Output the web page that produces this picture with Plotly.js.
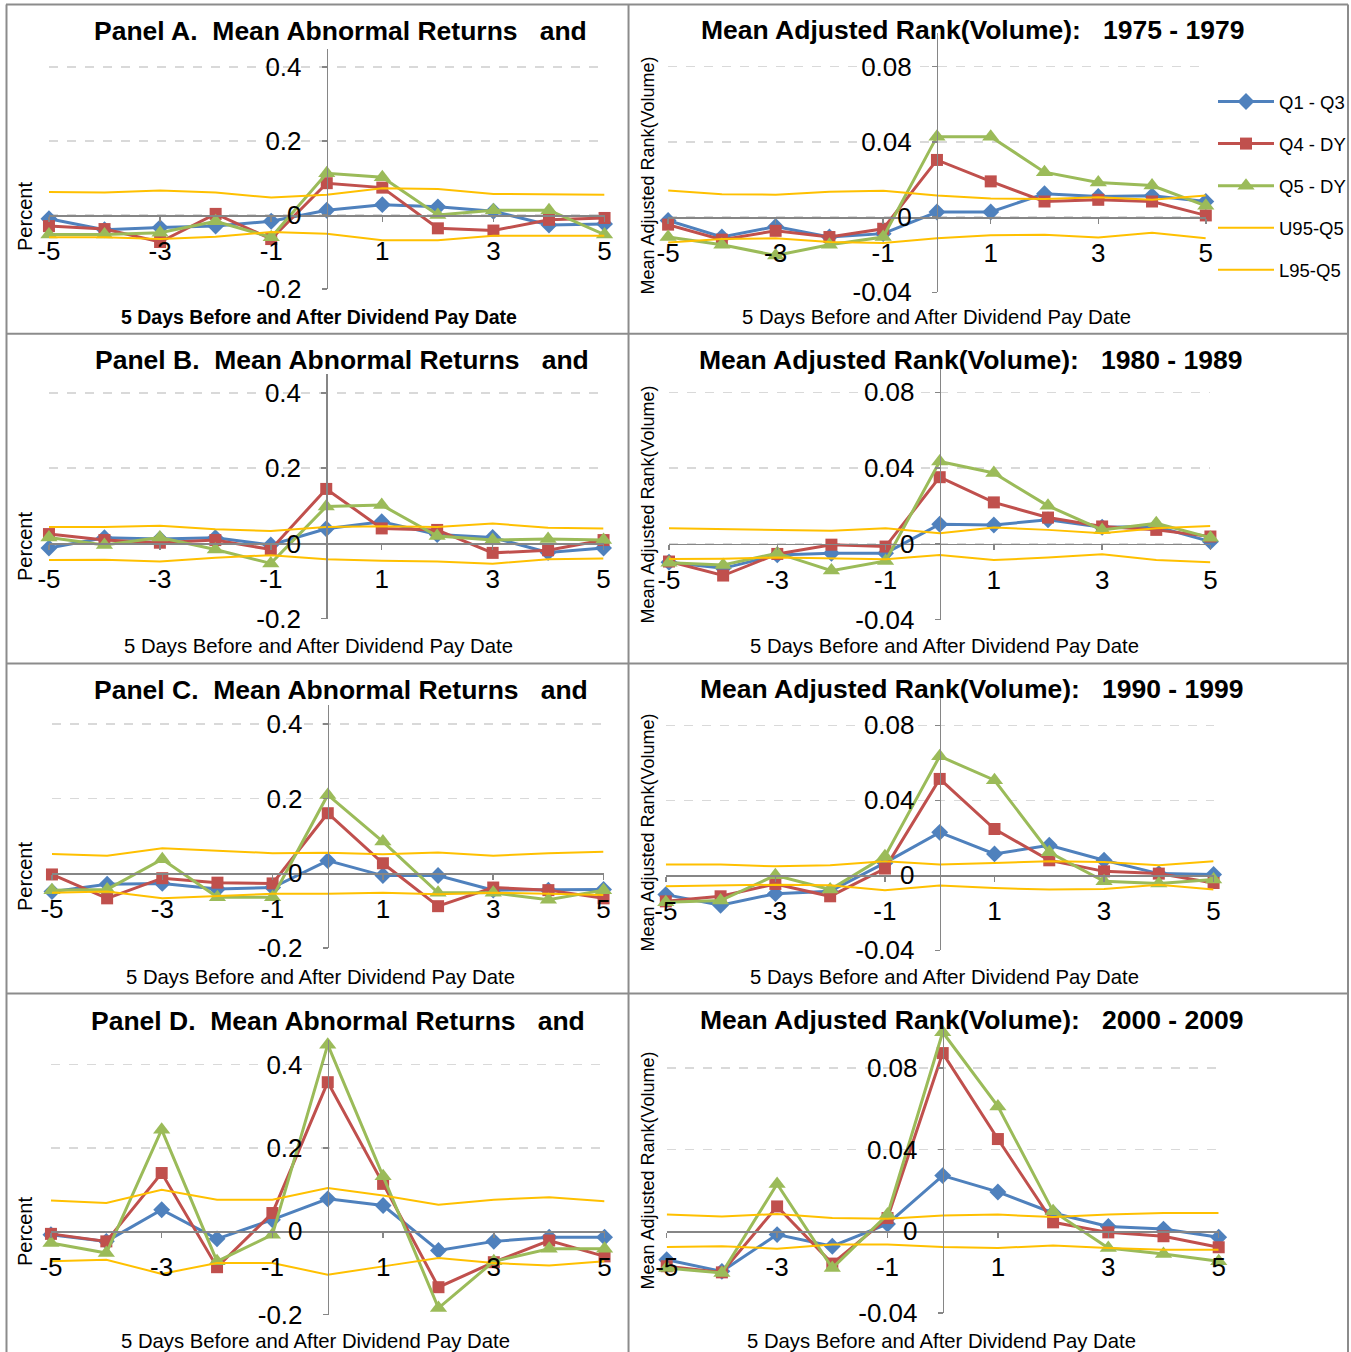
<!DOCTYPE html>
<html><head><meta charset="utf-8">
<script src="https://cdn.plot.ly/plotly-3.0.1.min.js"></script>
<style>html,body{margin:0;padding:0;background:#fff;overflow:hidden;width:1351px;height:1352px}
#chart{width:1351px;height:1352px;overflow:hidden}</style>
</head><body><div id="chart"></div>
<script>
// ---------------- DATA ----------------
const days = [-5,-4,-3,-2,-1,0,1,2,3,4,5];
const xTickVals = [-5,-3,-1,1,3,5];
const xTickText = ['-5','-3','-1','1','3','5'];
const seriesNames = ['Q1 - Q3','Q4 - DY','Q5 - DY','U95-Q5','L95-Q5'];
const retTickVals = [-0.2,0,0.2,0.4];
const retTickText = ['-0.2','0','0.2','0.4'];
const volTickVals = [-0.04,0,0.04,0.08];
const volTickText = ['-0.04','0','0.04','0.08'];
const leftTitles = ['Panel A.  Mean Abnormal Returns   and','Panel B.  Mean Abnormal Returns   and','Panel C.  Mean Abnormal Returns   and','Panel D.  Mean Abnormal Returns   and'];
const rightTitles = ['Mean Adjusted Rank(Volume):   1975 - 1979','Mean Adjusted Rank(Volume):   1980 - 1989','Mean Adjusted Rank(Volume):   1990 - 1999','Mean Adjusted Rank(Volume):   2000 - 2009'];
const xTitle = '5 Days Before and After Dividend Pay Date';
const retYTitle = 'Percent';
const volYTitle = 'Mean Adjusted Rank(Volume)';

// Panel A – abnormal returns
const retA_Q1Q3 = [-0.010,-0.040,-0.034,-0.030,-0.017,0.013,0.028,0.022,0.010,-0.027,-0.024];
const retA_Q4DY = [-0.030,-0.038,-0.073,0.003,-0.065,0.086,0.074,-0.036,-0.042,-0.013,-0.008];
const retA_Q5DY = [-0.053,-0.053,-0.048,-0.017,-0.060,0.113,0.102,0.000,0.013,0.013,-0.053];
const retA_U95  = [0.062,0.061,0.066,0.061,0.047,0.055,0.072,0.070,0.057,0.057,0.055];
const retA_L95  = [-0.060,-0.060,-0.065,-0.059,-0.046,-0.051,-0.068,-0.068,-0.056,-0.056,-0.056];
// Panel B
const retB_Q1Q3 = [-0.012,0.015,0.012,0.015,-0.004,0.039,0.058,0.024,0.016,-0.024,-0.012];
const retB_Q4DY = [0.025,0.009,0.002,0.009,-0.016,0.145,0.040,0.036,-0.025,-0.018,0.009];
const retB_Q5DY = [0.016,-0.004,0.016,-0.016,-0.053,0.098,0.102,0.020,0.009,0.012,0.009];
const retB_U95  = [0.044,0.044,0.047,0.038,0.033,0.044,0.046,0.044,0.053,0.042,0.040];
const retB_L95  = [-0.044,-0.043,-0.048,-0.038,-0.031,-0.042,-0.046,-0.048,-0.054,-0.042,-0.040];
// Panel C
const retC_Q1Q3 = [-0.049,-0.029,-0.027,-0.042,-0.038,0.034,-0.006,-0.006,-0.045,-0.045,-0.043];
const retC_Q4DY = [-0.003,-0.067,-0.013,-0.025,-0.027,0.161,0.027,-0.088,-0.038,-0.045,-0.067];
const retC_Q5DY = [-0.045,-0.043,0.038,-0.064,-0.064,0.210,0.085,-0.052,-0.052,-0.071,-0.045];
const retC_U95  = [0.052,0.047,0.067,0.060,0.054,0.055,0.051,0.056,0.047,0.054,0.058];
const retC_L95  = [-0.052,-0.049,-0.067,-0.060,-0.055,-0.055,-0.052,-0.056,-0.052,-0.055,-0.058];
// Panel D
const retD_Q1Q3 = [-0.008,-0.024,0.052,-0.018,0.028,0.078,0.062,-0.046,-0.024,-0.014,-0.014];
const retD_Q4DY = [-0.006,-0.024,0.140,-0.086,0.044,0.358,0.114,-0.134,-0.074,-0.022,-0.060];
const retD_Q5DY = [-0.028,-0.052,0.244,-0.072,-0.008,0.448,0.132,-0.184,-0.072,-0.042,-0.042];
const retD_U95  = [0.074,0.068,0.100,0.076,0.076,0.104,0.086,0.064,0.076,0.082,0.072];
const retD_L95  = [-0.072,-0.068,-0.102,-0.076,-0.076,-0.104,-0.084,-0.064,-0.076,-0.082,-0.072];

// Volume 1975-1979
const vol75_Q1Q3 = [-0.0018,-0.0106,-0.0050,-0.0106,-0.0088,0.0027,0.0027,0.0124,0.0110,0.0113,0.0083];
const vol75_Q4DY = [-0.0040,-0.0120,-0.0073,-0.0106,-0.0062,0.0304,0.0190,0.0083,0.0092,0.0083,0.0009];
const vol75_Q5DY = [-0.0106,-0.0147,-0.0204,-0.0147,-0.0106,0.0428,0.0428,0.0239,0.0184,0.0168,0.0060];
const vol75_U95  = [0.0142,0.0122,0.0119,0.0135,0.0140,0.0115,0.0099,0.0096,0.0106,0.0092,0.0115];
const vol75_L95  = [-0.0135,-0.0117,-0.0113,-0.0133,-0.0138,-0.0112,-0.0097,-0.0094,-0.0108,-0.0083,-0.0113];
// Volume 1980-1989
const vol80_Q1Q3 = [-0.0097,-0.0129,-0.0058,-0.0049,-0.0049,0.0104,0.0100,0.0127,0.0088,0.0092,0.0012];
const vol80_Q4DY = [-0.0093,-0.0167,-0.0053,-0.0004,-0.0014,0.0352,0.0219,0.0139,0.0092,0.0074,0.0039];
const vol80_Q5DY = [-0.0099,-0.0111,-0.0049,-0.0141,-0.0090,0.0435,0.0374,0.0201,0.0074,0.0109,0.0033];
const vol80_U95  = [0.0083,0.0078,0.0070,0.0069,0.0083,0.0056,0.0086,0.0074,0.0056,0.0083,0.0095];
const vol80_L95  = [-0.0079,-0.0078,-0.0072,-0.0076,-0.0081,-0.0058,-0.0085,-0.0072,-0.0055,-0.0085,-0.0097];
// Volume 1990-1999
const vol90_Q1Q3 = [-0.0103,-0.0160,-0.0098,-0.0085,0.0066,0.0229,0.0114,0.0160,0.0080,0.0009,0.0004];
const vol90_Q4DY = [-0.0139,-0.0112,-0.0046,-0.0112,0.0036,0.0514,0.0247,0.0080,0.0021,0.0009,-0.0041];
const vol90_Q5DY = [-0.0144,-0.0135,0.0000,-0.0076,0.0101,0.0635,0.0507,0.0123,-0.0032,-0.0044,-0.0023];
const vol90_U95  = [0.0057,0.0057,0.0048,0.0053,0.0075,0.0057,0.0066,0.0075,0.0071,0.0053,0.0075];
const vol90_L95  = [-0.0059,-0.0055,-0.0050,-0.0053,-0.0080,-0.0055,-0.0068,-0.0076,-0.0073,-0.0050,-0.0076];
// Volume 2000-2009
const vol00_Q1Q3 = [-0.0139,-0.0196,-0.0016,-0.0073,0.0036,0.0273,0.0193,0.0090,0.0024,0.0011,-0.0029];
const vol00_Q4DY = [-0.0171,-0.0201,0.0122,-0.0158,0.0065,0.0873,0.0452,0.0044,-0.0005,-0.0024,-0.0078];
const vol00_Q5DY = [-0.0180,-0.0204,0.0232,-0.0180,0.0082,0.0975,0.0612,0.0098,-0.0082,-0.0111,-0.0147];
const vol00_U95  = [0.0082,0.0073,0.0085,0.0065,0.0062,0.0077,0.0082,0.0070,0.0082,0.0090,0.0090];
const vol00_L95  = [-0.0077,-0.0073,-0.0085,-0.0065,-0.0065,-0.0077,-0.0082,-0.0069,-0.0082,-0.0090,-0.0090];

// ---------------- LAYOUT / STYLE ----------------
const W = 1351, H = 1352;
const FONT = '"Liberation Sans", Arial, sans-serif';
const colors = ['#4F81BD','#C0504D','#9BBB59','#FFC000','#FFC000'];
const symbols = ['diamond','square','triangle-up',null,null];
const msizes = [13,12,15,0,0];
const lwidths = [3,3,3,2,2];

const panelSeries = [
  [retA_Q1Q3,retA_Q4DY,retA_Q5DY,retA_U95,retA_L95],
  [retB_Q1Q3,retB_Q4DY,retB_Q5DY,retB_U95,retB_L95],
  [retC_Q1Q3,retC_Q4DY,retC_Q5DY,retC_U95,retC_L95],
  [retD_Q1Q3,retD_Q4DY,retD_Q5DY,retD_U95,retD_L95],
  [vol75_Q1Q3,vol75_Q4DY,vol75_Q5DY,vol75_U95,vol75_L95],
  [vol80_Q1Q3,vol80_Q4DY,vol80_Q5DY,vol80_U95,vol80_L95],
  [vol90_Q1Q3,vol90_Q4DY,vol90_Q5DY,vol90_U95,vol90_L95],
  [vol00_Q1Q3,vol00_Q4DY,vol00_Q5DY,vol00_U95,vol00_L95]
];

// pixel geometry of each panel
const geom = [
  {xl:49,  xr:605,  vTop:0.4,  pTop:67,    vBot:-0.2,  pBot:289,   ymin:-0.2,  ymax:0.45},
  {xl:49,  xr:604,  vTop:0.4,  pTop:393,   vBot:-0.2,  pBot:618.7, ymin:-0.2,  ymax:0.45},
  {xl:52,  xr:604,  vTop:0.4,  pTop:724,   vBot:-0.2,  pBot:948,   ymin:-0.2,  ymax:0.45},
  {xl:51,  xr:605,  vTop:0.4,  pTop:1064.7,vBot:-0.2,  pBot:1314.7,ymin:-0.2,  ymax:0.46},
  {xl:668.6,xr:1206.7,vTop:0.08,pTop:66.7, vBot:-0.04, pBot:292.3, ymin:-0.04, ymax:0.098},
  {xl:669.5,xr:1211.3,vTop:0.08,pTop:392.3,vBot:-0.04, pBot:619.7, ymin:-0.04, ymax:0.095},
  {xl:666.3,xr:1214.5,vTop:0.08,pTop:725.3,vBot:-0.04, pBot:950.3, ymin:-0.04, ymax:0.095},
  {xl:667.2,xr:1219.6,vTop:0.08,pTop:1068, vBot:-0.04, pBot:1313,  ymin:-0.04, ymax:0.1}
];

const data = [];
const layout = {
  width: W, height: H, autosize: false,
  margin: {l:0, r:0, t:0, b:0, pad:0},
  paper_bgcolor: '#ffffff', plot_bgcolor: 'rgba(0,0,0,0)',
  showlegend: true,
  legend: {x: 1214/W, y: 1 - 83/H, xanchor:'left', yanchor:'top',
           font:{family: FONT, size: 18.5, color:'#000'}, tracegroupgap: 15,
           itemwidth: 56, bgcolor:'rgba(0,0,0,0)', traceorder:'grouped'},
  annotations: [], shapes: []
};

geom.forEach((g, i) => {
  const n = i + 1;
  const xa = 'xaxis' + (n === 1 ? '' : n), ya = 'yaxis' + (n === 1 ? '' : n);
  const xr = 'x' + (n === 1 ? '' : n), yr = 'y' + (n === 1 ? '' : n);
  const ppu = (g.pBot - g.pTop) / (g.vTop - g.vBot);
  const pix = v => g.pBot - (v - g.vBot) * ppu;
  const isVol = i >= 4;
  layout[xa] = {
    domain: [g.xl / W, g.xr / W], range: [-5, 5], anchor: 'free', position: 1 - pix(0) / H,
    showline: true, linecolor: '#868686', linewidth: 1.5,
    tickmode: 'array', tickvals: xTickVals, ticktext: xTickText,
    ticks: 'outside', ticklen: 5, tickcolor: '#868686', tickwidth: 1.5,
    showgrid: false, zeroline: false, fixedrange: true,
    tickfont: {family: FONT, size: 26, color: '#000'}, ticklabelstandoff: 7
  };
  layout[ya] = {
    domain: [1 - pix(g.ymin) / H, 1 - pix(g.ymax) / H], range: [g.ymin, g.ymax],
    anchor: 'free', position: ((g.xl + g.xr) / 2) / W,
    showline: true, linecolor: '#868686', linewidth: 1.5,
    tickmode: 'array', tickvals: isVol ? volTickVals : retTickVals, ticktext: isVol ? volTickText : retTickText,
    ticks: 'outside', ticklen: 5, tickcolor: '#868686', tickwidth: 1.5,
    showgrid: true, gridcolor: '#d9d9d9', gridwidth: 1.5, griddash: 'dash',
    zeroline: false, fixedrange: true,
    tickfont: {family: FONT, size: 26, color: '#000'}, ticklabelstandoff: 15
  };
  panelSeries[i].forEach((ys, k) => {
    const tr = {
      type: 'scatter', x: days, y: ys, xaxis: xr, yaxis: yr, name: seriesNames[k],
      legendgroup: seriesNames[k], showlegend: i === 4, cliponaxis: false,
      line: {color: colors[k], width: lwidths[k]}, hoverinfo: 'skip'
    };
    if (symbols[k]) {
      tr.mode = 'lines+markers';
      tr.marker = {symbol: symbols[k], size: msizes[k], color: colors[k], line: {width: 0}};
    } else {
      tr.mode = 'lines';
    }
    data.push(tr);
  });
});

// titles / axis titles (pixel centre positions)
const titlePos = [[341,31],[342,360],[341,690],[338,1021],[973,30],[971,360],[972,689],[972,1020]];
const xTitlePos = [[319,317],[319,646],[321,977],[316,1341],[937,317],[945,646],[945,977],[942,1341]];
const yTitlePos = [[25,216],[25,546],[25,876],[25,1231],[648,176],[648,505],[648,833],[648,1171]];
for (let i = 0; i < 8; i++) {
  const isVol = i >= 4;
  const t = isVol ? rightTitles[i - 4] : leftTitles[i];
  layout.annotations.push({xref:'paper', yref:'paper', x: titlePos[i][0] / W, y: 1 - titlePos[i][1] / H,
    xanchor:'center', yanchor:'middle', showarrow:false, text:'<b>' + t + '</b>',
    font:{family: FONT, size: 26.5, color:'#000'}});
  layout.annotations.push({xref:'paper', yref:'paper', x: xTitlePos[i][0] / W, y: 1 - xTitlePos[i][1] / H,
    xanchor:'center', yanchor:'middle', showarrow:false, text: i === 0 ? '<b>' + xTitle + '</b>' : xTitle,
    font:{family: FONT, size: i === 0 ? 19.5 : 20.3, color:'#000'}});
  layout.annotations.push({xref:'paper', yref:'paper', x: yTitlePos[i][0] / W, y: 1 - yTitlePos[i][1] / H,
    xanchor:'center', yanchor:'middle', showarrow:false, textangle:-90, text: isVol ? volYTitle : retYTitle,
    font:{family: FONT, size: isVol ? 18 : 20, color:'#000'}});
}

// panel borders
const bc = '#8c8c8c';
const hl = (y) => ({type:'line', xref:'paper', yref:'paper', x0: 6/W, x1: 1349/W, y0: 1 - y/H, y1: 1 - y/H, line:{color: bc, width: 2}});
const vl = (x) => ({type:'line', xref:'paper', yref:'paper', x0: x/W, x1: x/W, y0: 1 - 4.5/H, y1: 0, line:{color: bc, width: 2}});
layout.shapes.push(hl(4.5), hl(333.7), hl(663.5), hl(993.5), vl(6.5), vl(629), vl(1349));

Plotly.newPlot('chart', data, layout, {staticPlot: true, displayModeBar: false});
</script></body></html>
